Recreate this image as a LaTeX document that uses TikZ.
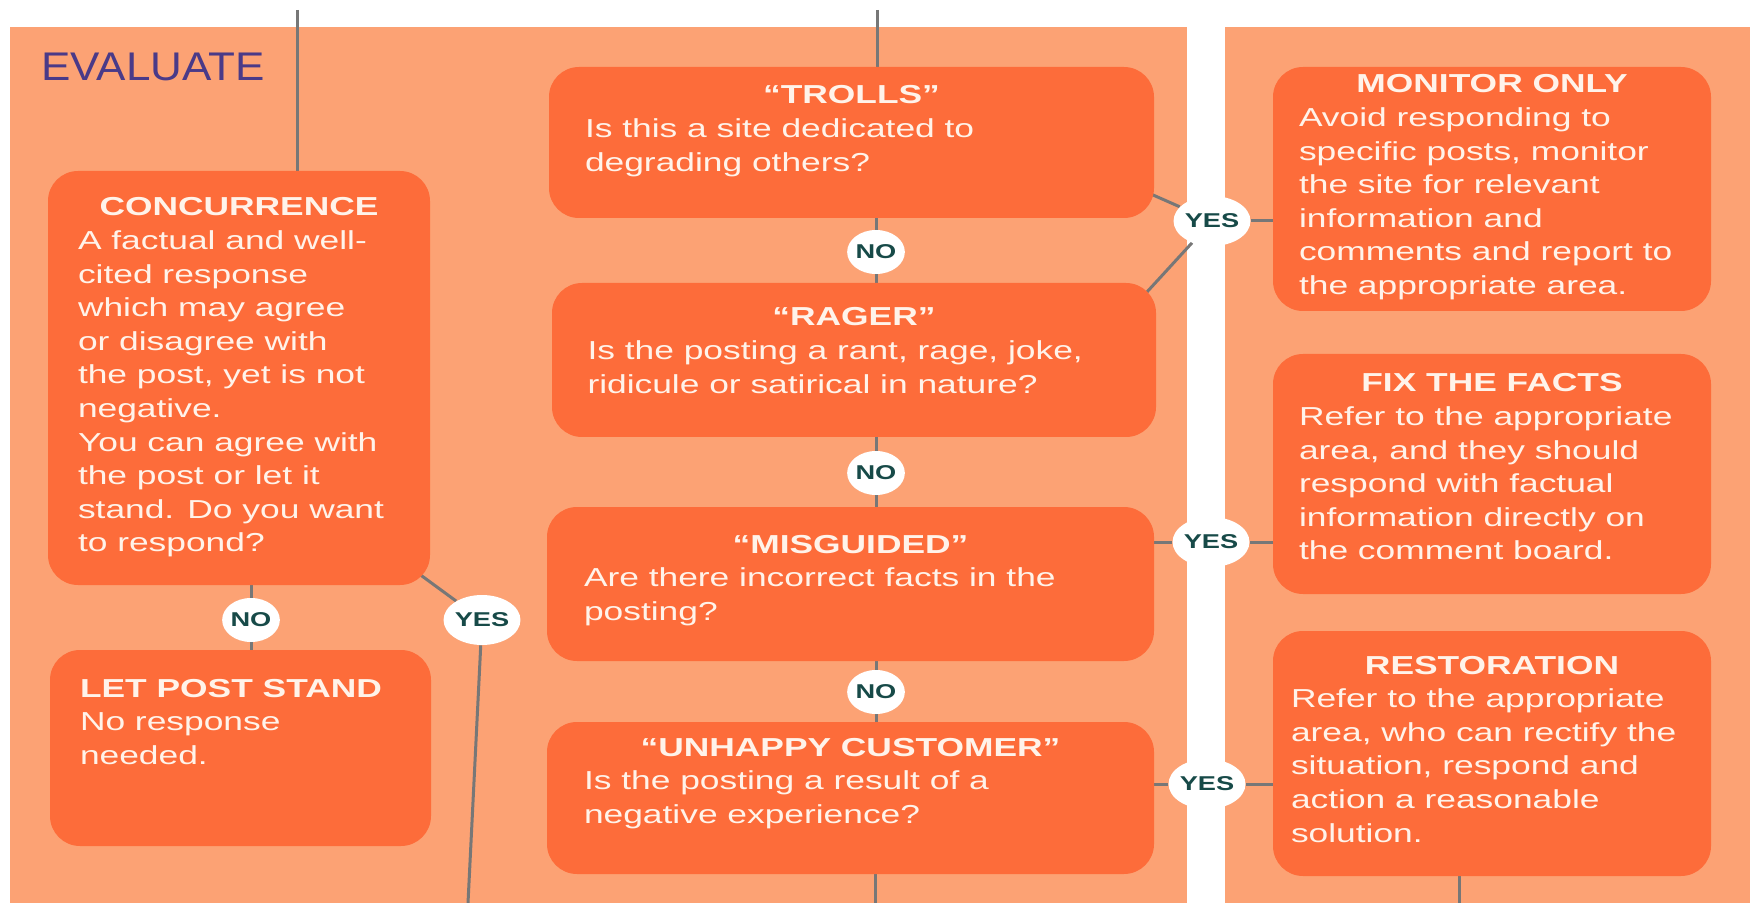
\documentclass[tikz,border=0pt]{standalone}
\usepackage{fontspec}
\setmainfont{Liberation Sans}[FakeStretch=1.36]
\newfontfamily\evalfont{Liberation Sans}[FakeStretch=1.1]
\usetikzlibrary{shapes.geometric}
\definecolor{panelcol}{HTML}{FCA274}
\definecolor{cardcol}{HTML}{FD6C3A}
\definecolor{cardtxt}{HTML}{FFF3EA}
\definecolor{linecol}{HTML}{777777}
\definecolor{tagtxt}{HTML}{174A48}
\definecolor{evalcol}{HTML}{4A3A88}
\pgfdeclarelayer{bg}
\pgfdeclarelayer{edges}
\pgfsetlayers{bg,edges,main}
\newcommand{\cardtext}[3]{\parbox[t]{#1}{\centering\bfseries #2\par\mdseries\raggedright\begin{tabular}[t]{@{}l@{}}#3\end{tabular}}}

\begin{document}
\begin{tikzpicture}[x=0.5pt,y=-0.5pt,
  card/.style={rectangle, rounded corners=15pt, fill=cardcol, text=cardtxt, inner sep=0pt, font=\fontsize{13}{16.8}\selectfont},
  choice/.style={ellipse, fill=white, text=tagtxt, inner sep=0pt, minimum width=26pt, minimum height=22pt, font=\fontsize{10}{10}\selectfont\bfseries},
  yeschoice/.style={choice, minimum width=31pt, minimum height=25pt},
  link/.style={draw=linecol, line width=1.5pt}]
	\useasboundingbox (0,0) rectangle (1756,903);
	\begin{pgfonlayer}{bg}
		\fill[panelcol] (10,27) rectangle (1187,903);
		\fill[panelcol] (1225,27) rectangle (1750,903);
	\end{pgfonlayer}
	\node[anchor=west, text=evalcol, inner sep=0pt, font=\evalfont\fontsize{20}{20}\selectfont] (evaluate) at (41,67) {EVALUATE};
	\node[card, minimum width=191pt, text height=22.5pt, text depth=184.5pt] (conc) at (239,378) {\cardtext{161pt}{CONCURRENCE}{A factual and well-\\cited response\\which may agree\\or disagree with\\the post, yet is not\\negative.\\You can agree with\\the post or let it\\stand. Do you want\\to respond?}};
	\node[card, minimum width=190.5pt, text height=23.5pt, text depth=74.5pt] (letpost) at (240.5,748) {\cardtext{160.5pt}{}{\textbf{LET POST STAND}\\No response\\needed.}};
	\node[card, minimum width=302.5pt, text height=18.5pt, text depth=57pt] (trolls) at (851.5,142.5) {\cardtext{266.5pt}{“TROLLS”}{Is this a site dedicated to\\degrading others?}};
	\node[card, minimum width=302pt, text height=21.5pt, text depth=55.5pt] (rager) at (854,360) {\cardtext{266.5pt}{“RAGER”}{Is the posting a rant, rage, joke,\\ridicule or satirical in nature?}};
	\node[card, minimum width=303.5pt, text height=23pt, text depth=54pt] (misg) at (850.5,584) {\cardtext{266.5pt}{“MISGUIDED”}{Are there incorrect facts in the\\posting?}};
	\node[card, minimum width=303.5pt, text height=17pt, text depth=59pt] (unhappy) at (850.5,798) {\cardtext{266.5pt}{“UNHAPPY CUSTOMER”}{Is the posting a result of a\\negative experience?}};
	\node[card, minimum width=219pt, text height=13pt, text depth=109pt] (monitor) at (1492,189) {\cardtext{193pt}{MONITOR ONLY}{Avoid responding to\\specific posts, monitor\\the site for relevant\\information and\\comments and report to\\the appropriate area.}};
	\node[card, minimum width=219pt, text height=19pt, text depth=101pt] (fix) at (1492,474) {\cardtext{193pt}{FIX THE FACTS}{Refer to the appropriate\\area, and they should\\respond with factual\\information directly on\\the comment board.}};
	\node[card, minimum width=219pt, text height=21.5pt, text depth=101pt] (restor) at (1492,753.5) {\cardtext{201pt}{RESTORATION}{Refer to the appropriate\\area, who can rectify the\\situation, respond and\\action a reasonable\\solution.}};
	\node[choice] (no1) at (251,620) {NO};
	\node[yeschoice] (yes1) at (482,620) {YES};
	\node[choice] (no2) at (876,252) {NO};
	\node[choice] (no3) at (876,473) {NO};
	\node[choice] (no4) at (876,692) {NO};
	\node[yeschoice] (yesA) at (1212,221) {YES};
	\node[yeschoice] (yesB) at (1211,542) {YES};
	\node[yeschoice] (yesC) at (1207,784) {YES};
	\coordinate (in1) at (297,10);
	\coordinate (in2) at (877,10);
	\coordinate (out1) at (468,903);
	\coordinate (out2) at (875,903);
	\coordinate (out3) at (1459,903);
	\begin{pgfonlayer}{edges}
		\draw[link] (in1) -- (in1 |- conc);
		\draw[link] (no1 |- conc) -- (no1) -- (no1 |- letpost);
		\draw[link] ([shift={(-12,-12)}]conc.south east) -- (yes1) -- (out1);
		\draw[link] (in2) -- (in2 |- trolls);
		\draw[link] (no2 |- trolls) -- (no2) -- (no2 |- rager);
		\draw[link] (no3 |- rager) -- (no3) -- (no3 |- misg);
		\draw[link] (no4 |- misg) -- (no4) -- (no4 |- unhappy);
		\draw[link] (out2 |- unhappy) -- (out2);
		\draw[link] ([shift={(-5,-25)}]trolls.south east) -- (yesA);
		\draw[link] ([shift={(-10,10)}]rager.north east) -- (yesA);
		\draw[link] (yesA) -- (yesA -| monitor.west);
		\draw[link] (yesB -| misg.east) -- (yesB) -- (yesB -| fix.west);
		\draw[link] (yesC -| unhappy.east) -- (yesC) -- (yesC -| restor.west);
		\draw[link] (out3 |- restor) -- (out3);
	\end{pgfonlayer}
\end{tikzpicture}
\end{document}
